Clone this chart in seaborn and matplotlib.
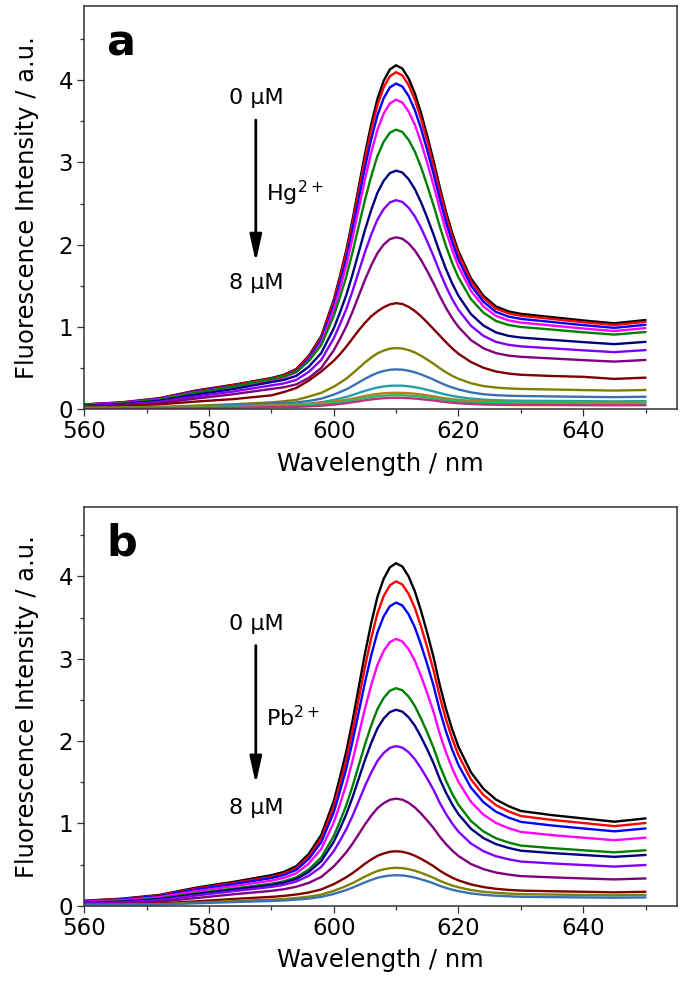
#! /usr/bin/env python3
# Fluorescence titration spectra, two stacked panels (Hg2+ / Pb2+)

import pandas as pd
import seaborn as sns

import matplotlib as mpl
import matplotlib.pyplot as plt

wavelength = [560, 566, 572, 578, 584, 590, 592, 594, 596, 598,
              600, 601, 602, 603, 604, 605, 606, 607, 608, 609,
              610, 611, 612, 613, 614, 615, 616, 617, 618, 619,
              620, 622, 624, 626, 628, 630, 635, 640, 645, 650]

# ---- panel a: Hg2+ (0 uM -> 8 uM)
hg_black = [0.06, 0.085, 0.135, 0.23, 0.30, 0.38, 0.42, 0.49, 0.65, 0.89,
            1.33, 1.62, 1.93, 2.30, 2.70, 3.10, 3.46, 3.77, 3.99, 4.13,
            4.18, 4.14, 4.02, 3.84, 3.60, 3.32, 3.02, 2.70, 2.40, 2.14,
            1.92, 1.59, 1.38, 1.25, 1.19, 1.16, 1.12, 1.08, 1.045, 1.085]
hg_red = [0.059, 0.083, 0.132, 0.225, 0.294, 0.372, 0.412, 0.48, 0.637, 0.872,
          1.303, 1.588, 1.891, 2.254, 2.646, 3.038, 3.391, 3.695, 3.91, 4.047,
          4.096, 4.057, 3.94, 3.763, 3.528, 3.254, 2.96, 2.646, 2.352, 2.097,
          1.882, 1.558, 1.352, 1.225, 1.166, 1.137, 1.098, 1.058, 1.024, 1.063]
hg_blue = [0.057, 0.08, 0.128, 0.218, 0.284, 0.36, 0.398, 0.464, 0.616, 0.843,
           1.26, 1.534, 1.828, 2.178, 2.557, 2.936, 3.277, 3.57, 3.779, 3.911,
           3.958, 3.921, 3.807, 3.636, 3.409, 3.144, 2.86, 2.557, 2.273, 2.027,
           1.818, 1.506, 1.307, 1.184, 1.127, 1.099, 1.061, 1.023, 0.99, 1.027]
hg_magenta = [0.054, 0.077, 0.123, 0.21, 0.276, 0.352, 0.388, 0.451, 0.595, 0.811,
              1.206, 1.466, 1.744, 2.076, 2.435, 2.794, 3.117, 3.395, 3.592, 3.717,
              3.762, 3.727, 3.619, 3.458, 3.243, 2.991, 2.722, 2.435, 2.166, 1.932,
              1.735, 1.439, 1.251, 1.135, 1.081, 1.054, 1.018, 0.982, 0.951, 0.987]
hg_green = [0.049, 0.072, 0.118, 0.204, 0.279, 0.367, 0.399, 0.456, 0.586, 0.782,
            1.134, 1.364, 1.61, 1.905, 2.224, 2.544, 2.83, 3.077, 3.25, 3.361,
            3.398, 3.369, 3.274, 3.132, 2.941, 2.718, 2.479, 2.222, 1.983, 1.776,
            1.602, 1.339, 1.174, 1.074, 1.025, 1.001, 0.969, 0.936, 0.908, 0.94]
hg_navy = [0.042, 0.062, 0.104, 0.18, 0.248, 0.331, 0.358, 0.407, 0.518, 0.685,
           0.983, 1.178, 1.386, 1.636, 1.907, 2.178, 2.421, 2.63, 2.776, 2.87,
           2.90, 2.877, 2.797, 2.676, 2.515, 2.326, 2.123, 1.905, 1.703, 1.527,
           1.379, 1.157, 1.018, 0.935, 0.893, 0.872, 0.844, 0.817, 0.792, 0.82]
hg_violet = [0.036, 0.055, 0.091, 0.158, 0.218, 0.291, 0.315, 0.358, 0.455, 0.601,
             0.863, 1.033, 1.215, 1.434, 1.672, 1.909, 2.122, 2.304, 2.432, 2.514,
             2.541, 2.52, 2.45, 2.345, 2.204, 2.038, 1.86, 1.67, 1.492, 1.338,
             1.209, 1.015, 0.893, 0.82, 0.784, 0.765, 0.741, 0.717, 0.695, 0.72]
hg_purple = [0.03, 0.045, 0.076, 0.132, 0.185, 0.248, 0.268, 0.303, 0.383, 0.503,
             0.717, 0.856, 1.006, 1.185, 1.379, 1.573, 1.747, 1.897, 2.001, 2.068,
             2.09, 2.073, 2.016, 1.93, 1.815, 1.679, 1.533, 1.377, 1.232, 1.106,
             1.001, 0.841, 0.742, 0.683, 0.653, 0.638, 0.618, 0.598, 0.58, 0.60]
hg_wine = [0.03, 0.042, 0.06, 0.095, 0.125, 0.17, 0.21, 0.26, 0.35, 0.46,
           0.59, 0.67, 0.76, 0.86, 0.96, 1.05, 1.13, 1.19, 1.24, 1.275,
           1.29, 1.28, 1.245, 1.195, 1.13, 1.055, 0.975, 0.895, 0.815, 0.74,
           0.675, 0.575, 0.505, 0.46, 0.435, 0.42, 0.405, 0.395, 0.37, 0.385]
hg_olive = [0.02, 0.025, 0.03, 0.045, 0.062, 0.085, 0.098, 0.115, 0.155, 0.20,
            0.275, 0.322, 0.373, 0.435, 0.502, 0.569, 0.629, 0.68, 0.714, 0.737,
            0.744, 0.739, 0.72, 0.691, 0.651, 0.604, 0.554, 0.50, 0.45, 0.407,
            0.371, 0.317, 0.283, 0.265, 0.254, 0.248, 0.241, 0.234, 0.228, 0.235]
hg_steel = [0.015, 0.018, 0.022, 0.035, 0.051, 0.071, 0.076, 0.084, 0.102, 0.13,
            0.179, 0.21, 0.243, 0.283, 0.327, 0.37, 0.41, 0.443, 0.466, 0.481,
            0.485, 0.482, 0.469, 0.45, 0.424, 0.394, 0.361, 0.326, 0.293, 0.265,
            0.242, 0.206, 0.184, 0.172, 0.165, 0.162, 0.157, 0.152, 0.148, 0.153]
hg_teal = [0.012, 0.014, 0.018, 0.025, 0.036, 0.051, 0.054, 0.059, 0.07, 0.086,
           0.114, 0.132, 0.151, 0.174, 0.199, 0.224, 0.246, 0.265, 0.278, 0.286,
           0.288, 0.287, 0.28, 0.269, 0.255, 0.237, 0.218, 0.198, 0.179, 0.163,
           0.15, 0.13, 0.118, 0.111, 0.107, 0.105, 0.102, 0.10, 0.097, 0.10]
hg_orange = [0.015, 0.017, 0.02, 0.025, 0.034, 0.051, 0.053, 0.057, 0.064, 0.076,
             0.094, 0.104, 0.116, 0.13, 0.146, 0.162, 0.176, 0.188, 0.195, 0.20,
             0.201, 0.20, 0.196, 0.19, 0.181, 0.17, 0.158, 0.145, 0.133, 0.123,
             0.115, 0.103, 0.096, 0.093, 0.09, 0.089, 0.087, 0.085, 0.083, 0.085]
hg_lime = [0.012, 0.014, 0.016, 0.02, 0.028, 0.042, 0.043, 0.046, 0.053, 0.063,
           0.078, 0.087, 0.097, 0.11, 0.124, 0.138, 0.15, 0.16, 0.166, 0.171,
           0.171, 0.171, 0.167, 0.162, 0.154, 0.144, 0.134, 0.123, 0.113, 0.104,
           0.097, 0.086, 0.08, 0.077, 0.075, 0.074, 0.072, 0.07, 0.069, 0.07]
hg_pink = [0.01, 0.011, 0.012, 0.014, 0.018, 0.027, 0.028, 0.03, 0.036, 0.044,
           0.057, 0.066, 0.074, 0.086, 0.097, 0.11, 0.12, 0.129, 0.135, 0.139,
           0.14, 0.139, 0.136, 0.131, 0.124, 0.116, 0.107, 0.097, 0.088, 0.08,
           0.074, 0.065, 0.059, 0.056, 0.054, 0.053, 0.052, 0.05, 0.049, 0.05]

# ---- panel b: Pb2+ (0 uM -> 8 uM)
pb_black = [0.06, 0.085, 0.13, 0.22, 0.29, 0.37, 0.41, 0.48, 0.63, 0.86,
            1.27, 1.56, 1.87, 2.24, 2.65, 3.06, 3.43, 3.75, 3.97, 4.11,
            4.16, 4.12, 4.00, 3.82, 3.58, 3.31, 3.02, 2.68, 2.39, 2.14,
            1.93, 1.62, 1.42, 1.29, 1.21, 1.15, 1.10, 1.06, 1.02, 1.06]
pb_red = [0.057, 0.08, 0.123, 0.208, 0.275, 0.35, 0.388, 0.455, 0.597, 0.814,
          1.203, 1.477, 1.771, 2.121, 2.51, 2.898, 3.248, 3.551, 3.76, 3.892,
          3.94, 3.902, 3.788, 3.618, 3.39, 3.135, 2.86, 2.538, 2.263, 2.027,
          1.828, 1.534, 1.345, 1.222, 1.146, 1.089, 1.042, 1.004, 0.966, 1.004]
pb_blue = [0.053, 0.075, 0.116, 0.198, 0.263, 0.335, 0.372, 0.435, 0.568, 0.771,
           1.134, 1.39, 1.663, 1.989, 2.35, 2.712, 3.038, 3.32, 3.514, 3.638,
           3.682, 3.646, 3.54, 3.381, 3.168, 2.929, 2.673, 2.372, 2.115, 1.894,
           1.708, 1.434, 1.257, 1.142, 1.071, 1.018, 0.974, 0.938, 0.903, 0.938]
pb_magenta = [0.047, 0.066, 0.103, 0.177, 0.238, 0.304, 0.337, 0.394, 0.511, 0.69,
              1.009, 1.233, 1.473, 1.758, 2.074, 2.391, 2.677, 2.924, 3.094, 3.202,
              3.241, 3.21, 3.116, 2.976, 2.789, 2.578, 2.353, 2.088, 1.862, 1.667,
              1.503, 1.262, 1.106, 1.005, 0.943, 0.896, 0.857, 0.826, 0.795, 0.826]
pb_green = [0.038, 0.054, 0.087, 0.152, 0.208, 0.267, 0.296, 0.345, 0.44, 0.586,
            0.846, 1.027, 1.219, 1.448, 1.703, 1.958, 2.188, 2.387, 2.523, 2.611,
            2.642, 2.616, 2.54, 2.426, 2.273, 2.102, 1.918, 1.702, 1.518, 1.359,
            1.226, 1.029, 0.902, 0.819, 0.768, 0.73, 0.699, 0.673, 0.648, 0.673]
pb_navy = [0.034, 0.049, 0.079, 0.141, 0.196, 0.252, 0.28, 0.325, 0.41, 0.542,
           0.776, 0.937, 1.11, 1.314, 1.541, 1.769, 1.975, 2.153, 2.273, 2.352,
           2.38, 2.357, 2.289, 2.187, 2.05, 1.897, 1.731, 1.538, 1.373, 1.23,
           1.111, 0.935, 0.821, 0.748, 0.702, 0.668, 0.639, 0.616, 0.593, 0.616]
pb_violet = [0.028, 0.04, 0.068, 0.124, 0.177, 0.228, 0.254, 0.294, 0.364, 0.471,
             0.662, 0.79, 0.927, 1.089, 1.27, 1.452, 1.616, 1.758, 1.854, 1.917,
             1.939, 1.92, 1.864, 1.78, 1.668, 1.542, 1.407, 1.249, 1.114, 0.997,
             0.899, 0.755, 0.662, 0.601, 0.564, 0.536, 0.513, 0.494, 0.475, 0.494]
pb_purple = [0.02, 0.027, 0.049, 0.093, 0.139, 0.18, 0.20, 0.23, 0.277, 0.349,
             0.477, 0.56, 0.648, 0.752, 0.868, 0.986, 1.092, 1.184, 1.245, 1.286,
             1.30, 1.288, 1.25, 1.194, 1.119, 1.034, 0.944, 0.838, 0.747, 0.669,
             0.603, 0.506, 0.444, 0.403, 0.378, 0.359, 0.344, 0.331, 0.319, 0.331]
pb_wine = [0.015, 0.018, 0.027, 0.053, 0.082, 0.107, 0.119, 0.136, 0.16, 0.197,
           0.262, 0.302, 0.345, 0.395, 0.451, 0.509, 0.56, 0.605, 0.634, 0.655,
           0.661, 0.655, 0.636, 0.607, 0.569, 0.526, 0.48, 0.426, 0.38, 0.34,
           0.307, 0.258, 0.226, 0.205, 0.192, 0.183, 0.175, 0.169, 0.162, 0.169]
pb_olive = [0.012, 0.014, 0.018, 0.036, 0.056, 0.073, 0.081, 0.093, 0.11, 0.135,
            0.18, 0.209, 0.239, 0.274, 0.313, 0.353, 0.389, 0.421, 0.441, 0.455,
            0.46, 0.456, 0.444, 0.425, 0.399, 0.37, 0.339, 0.303, 0.272, 0.245,
            0.223, 0.19, 0.169, 0.156, 0.147, 0.14, 0.135, 0.13, 0.126, 0.13]
pb_steel = [0.01, 0.012, 0.015, 0.029, 0.044, 0.057, 0.064, 0.073, 0.086, 0.107,
            0.143, 0.166, 0.19, 0.219, 0.251, 0.283, 0.313, 0.338, 0.355, 0.366,
            0.37, 0.367, 0.357, 0.341, 0.32, 0.297, 0.271, 0.241, 0.216, 0.194,
            0.176, 0.149, 0.132, 0.121, 0.114, 0.108, 0.104, 0.10, 0.097, 0.10]

hg_curves = [hg_black, hg_red, hg_blue, hg_magenta, hg_green, hg_navy, hg_violet, hg_purple,
             hg_wine, hg_olive, hg_steel, hg_teal, hg_orange, hg_lime, hg_pink]
pb_curves = [pb_black, pb_red, pb_blue, pb_magenta, pb_green, pb_navy, pb_violet, pb_purple,
             pb_wine, pb_olive, pb_steel]

line_colors = ["#000000", "#ff0000", "#0000ff", "#ff00ff", "#008000", "#000080", "#8000ff",
               "#800080", "#800000", "#808000", "#3a72b0", "#20a0a8", "#c07820", "#20c060", "#c03080"]


def configure_plot():
    sns.set_style("ticks")
    mpl.rcParams["font.family"] = ["DejaVu Sans"]
    mpl.rcParams["mathtext.fontset"] = "dejavusans"
    mpl.rcParams["text.color"] = "black"
    mpl.rcParams["axes.labelcolor"] = "black"
    mpl.rcParams["axes.linewidth"] = 1.1
    mpl.rcParams["axes.edgecolor"] = "#333333"
    mpl.rcParams["xtick.color"] = "#333333"
    mpl.rcParams["ytick.color"] = "#333333"
    mpl.rcParams["xtick.labelcolor"] = "black"
    mpl.rcParams["ytick.labelcolor"] = "black"


def draw_panel(ax, curves, letter, ion, ytop, txt):
    rows = []
    for i, c in enumerate(curves):
        if len(c) != len(wavelength):
            raise ValueError("curve %d of panel %s has %d points" % (i, letter, len(c)))
        for w, v in zip(wavelength, c):
            rows.append([w, v, "c%02d" % i])
    df = pd.DataFrame(rows, columns=["wl", "val", "curve"])
    pal = {"c%02d" % i: line_colors[i] for i in range(len(curves))}
    sns.lineplot(data=df, x="wl", y="val", hue="curve", palette=pal, estimator=None,
                 legend=False, linewidth=1.7, ax=ax)

    ax.set_xlim(560, 655)
    ax.set_ylim(0, ytop)
    ax.set_xticks([560, 580, 600, 620, 640])
    ax.set_xticks([570, 590, 610, 630, 650], minor=True)
    ax.set_yticks([0, 1, 2, 3, 4])
    ax.set_yticks([0.5, 1.5, 2.5, 3.5, 4.5], minor=True)
    ax.tick_params(which="major", length=5, width=0.9, labelsize=16.5, pad=3)
    ax.tick_params(which="minor", length=3, width=0.9)
    for s in ["top", "right"]:
        ax.spines[s].set_visible(True)
    ax.set_xlabel("Wavelength / nm", fontsize=17.5, labelpad=6)
    ax.set_ylabel("Fluorescence Intensity / a.u.", fontsize=17.5, labelpad=14)

    ax.text(563.5, txt["letter"], letter, fontsize=31, fontweight="bold", ha="left", va="center")
    ax.text(587.6, txt["top"], "0 µM", fontsize=16, ha="center", va="center")
    ax.text(587.6, txt["bot"], "8 µM", fontsize=16, ha="center", va="center")
    ax.text(589.2, txt["ion"], ion, fontsize=16, ha="left", va="center")
    ax.annotate("", xy=(587.5, txt["a1"]), xytext=(587.5, txt["a0"]),
                arrowprops=dict(arrowstyle="-|>,head_length=0.9,head_width=0.2",
                                color="black", lw=2.0, mutation_scale=18,
                                shrinkA=0, shrinkB=0))


def main():
    configure_plot()
    fig = plt.figure(figsize=(6.86, 9.84), dpi=100)
    ax_a = fig.add_axes([0.1229, 0.584, 0.8636, 0.4099])
    ax_b = fig.add_axes([0.1229, 0.0796, 0.8636, 0.4049])

    draw_panel(ax_a, hg_curves, "a", "Hg$^{2+}$", 4.9,
               {"letter": 4.45, "top": 3.78, "bot": 1.53, "ion": 2.62, "a0": 3.515, "a1": 1.79})
    draw_panel(ax_b, pb_curves, "b", "Pb$^{2+}$", 4.84,
               {"letter": 4.4, "top": 3.42, "bot": 1.19, "ion": 2.29, "a0": 3.16, "a1": 1.48})

    plt.savefig("out.png", dpi=100)


if __name__ == "__main__":
    main()
